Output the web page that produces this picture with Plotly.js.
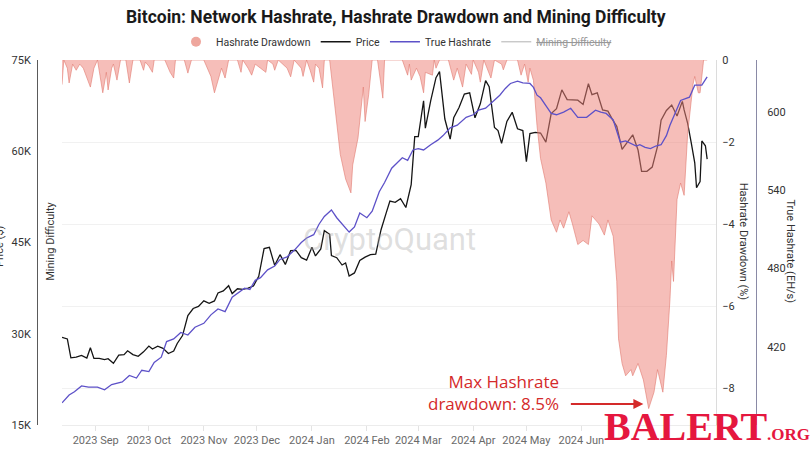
<!DOCTYPE html>
<html><head><meta charset="utf-8">
<script src="https://cdn.plot.ly/plotly-3.0.1.min.js"></script>
<style>html,body{margin:0;padding:0;background:#fff}#chart{width:811px;height:450px}</style>
</head><body><div id="chart"></div>
<script>
const priceDates = ['2023-08-13','2023-08-16','2023-08-18','2023-08-21','2023-08-24','2023-08-27','2023-08-29','2023-08-31',
'2023-09-03','2023-09-06','2023-09-08','2023-09-11','2023-09-14','2023-09-17','2023-09-19','2023-09-22','2023-09-25','2023-09-28',
'2023-10-01','2023-10-03','2023-10-06','2023-10-09','2023-10-12','2023-10-15','2023-10-17','2023-10-20','2023-10-23','2023-10-26','2023-10-29',
'2023-11-01','2023-11-04','2023-11-07','2023-11-09','2023-11-12','2023-11-15','2023-11-17','2023-11-20','2023-11-23','2023-11-26','2023-11-29',
'2023-12-02','2023-12-05','2023-12-08','2023-12-11','2023-12-14','2023-12-17','2023-12-20','2023-12-23','2023-12-26','2023-12-29',
'2024-01-01','2024-01-03','2024-01-06','2024-01-08','2024-01-11','2024-01-12','2024-01-15','2024-01-18','2024-01-20','2024-01-22','2024-01-25','2024-01-28','2024-01-31',
'2024-02-03','2024-02-06','2024-02-09','2024-02-12','2024-02-14','2024-02-17','2024-02-20','2024-02-23','2024-02-26','2024-02-28',
'2024-03-01','2024-03-04','2024-03-05','2024-03-08','2024-03-11','2024-03-13','2024-03-16','2024-03-19','2024-03-21','2024-03-24','2024-03-27','2024-03-30',
'2024-04-02','2024-04-05','2024-04-08','2024-04-10','2024-04-13','2024-04-15','2024-04-17','2024-04-20','2024-04-23','2024-04-26','2024-04-29',
'2024-05-01','2024-05-03','2024-05-06','2024-05-09','2024-05-12','2024-05-15','2024-05-18','2024-05-21','2024-05-24','2024-05-27','2024-05-30',
'2024-06-02','2024-06-05','2024-06-07','2024-06-10','2024-06-13','2024-06-16','2024-06-19','2024-06-21','2024-06-24','2024-06-27','2024-06-30',
'2024-07-03','2024-07-05','2024-07-08','2024-07-11','2024-07-14','2024-07-16','2024-07-19','2024-07-22','2024-07-25','2024-07-28','2024-07-29','2024-07-31',
'2024-08-02','2024-08-04','2024-08-05','2024-08-07','2024-08-08','2024-08-10','2024-08-11'];
const priceValues = [29400,29150,26050,26150,26450,26000,27700,25950,
25950,25750,25900,25150,26500,26550,27200,26580,26300,27030,
27980,27500,27950,27600,26750,27150,28400,29700,33000,34150,34500,
35400,35000,35400,36700,37050,37900,36600,37400,37300,37500,37850,
39450,44000,44200,41250,43000,41400,43650,43700,42500,42100,
44200,42800,43950,46950,46350,42850,42500,41300,41650,39500,40000,42050,42600,
43000,43100,47100,49950,51800,51600,52200,50750,54500,62400,
62400,68300,63800,68300,72100,73100,65300,62000,65500,67200,69400,69600,
65500,67800,71600,70600,63900,63400,61300,64900,66400,63700,63400,
58300,62900,63100,63000,61500,66200,67000,70100,68500,68500,68400,
67700,71100,69300,69600,66800,66600,65000,64100,60300,61500,62700,
60200,56700,56700,57400,60800,65100,66700,67600,65800,68200,66800,64600,
61400,58100,54000,55000,61700,60900,58700];

const hashDates = ['2023-08-13','2023-08-17','2023-08-20','2023-08-24','2023-08-28','2023-09-02','2023-09-06','2023-09-10','2023-09-16','2023-09-20','2023-09-24','2023-09-27',
'2023-10-01','2023-10-04','2023-10-08','2023-10-11','2023-10-15','2023-10-19','2023-10-23','2023-10-27',
'2023-11-01','2023-11-05','2023-11-09','2023-11-13','2023-11-17','2023-11-20','2023-11-24','2023-11-27','2023-11-30',
'2023-12-03','2023-12-07','2023-12-11','2023-12-14','2023-12-18','2023-12-22','2023-12-26','2023-12-29',
'2024-01-02','2024-01-05','2024-01-08','2024-01-12','2024-01-15','2024-01-18','2024-01-22','2024-01-25','2024-01-28',
'2024-02-01','2024-02-04','2024-02-08','2024-02-11','2024-02-15','2024-02-18','2024-02-21','2024-02-24','2024-02-27',
'2024-03-01','2024-03-04','2024-03-08','2024-03-12','2024-03-15','2024-03-19','2024-03-23','2024-03-28',
'2024-04-01','2024-04-04','2024-04-08','2024-04-12','2024-04-16','2024-04-19','2024-04-22','2024-04-26','2024-04-29',
'2024-05-03','2024-05-05','2024-05-07','2024-05-09','2024-05-12','2024-05-15','2024-05-18','2024-05-22','2024-05-26','2024-05-30',
'2024-06-04','2024-06-09','2024-06-12','2024-06-15','2024-06-19','2024-06-21','2024-06-23','2024-06-26','2024-06-29',
'2024-07-02','2024-07-04','2024-07-07','2024-07-10','2024-07-13','2024-07-16','2024-07-19','2024-07-21','2024-07-24','2024-07-27',
'2024-08-01','2024-08-04','2024-08-08','2024-08-11'];
const hashValues = [377,383,385.5,390,389,389,387,391,393,398,396,402,
401,408,412,424,426,431,429,435,
438,444.5,449,447,458,461,465,464,471,
473,479,482,487,489,494,500,503.5,
506,514,520,525,519,514,508,512,522.6,
519,524,539,546,557,561,565,563,571,
572,571,575,578.5,582,588,590,596,
598,601.5,603,607.7,613,618,622,623.7,622.5,
622,619,613,611,605,599,598,600,603,596,
596,601.5,600,599,594,585,577,578,576,
574,575,573,572,574,575,582,590,600,609,
611.5,620.7,620.7,627];

const ddDates = ['2023-08-13','2023-08-14','2023-08-16','2023-08-17','2023-08-19','2023-08-21','2023-08-23','2023-08-25','2023-08-29','2023-08-31',
'2023-09-02','2023-09-05','2023-09-07','2023-09-08','2023-09-10','2023-09-11','2023-09-13','2023-09-15','2023-09-18','2023-09-20','2023-09-22','2023-09-26','2023-09-28','2023-09-29',
'2023-10-01','2023-10-03','2023-10-04','2023-10-10','2023-10-13','2023-10-15','2023-10-16','2023-10-21','2023-10-23','2023-10-25',
'2023-11-01','2023-11-05','2023-11-07','2023-11-10','2023-11-11','2023-11-13','2023-11-15','2023-11-20','2023-11-22','2023-11-23','2023-11-26','2023-11-28','2023-11-30',
'2023-12-03','2023-12-06','2023-12-07','2023-12-10','2023-12-11','2023-12-13','2023-12-18','2023-12-20','2023-12-22','2023-12-26','2023-12-27','2023-12-29','2023-12-31',
'2024-01-02','2024-01-03','2024-01-05','2024-01-07','2024-01-08','2024-01-11','2024-01-14','2024-01-17','2024-01-20','2024-01-23','2024-01-24','2024-01-27','2024-01-30','2024-01-31',
'2024-02-02','2024-02-04','2024-02-07','2024-02-10','2024-02-11','2024-02-21','2024-02-24','2024-02-25','2024-02-26','2024-02-29',
'2024-03-02','2024-03-04','2024-03-05','2024-03-09','2024-03-10','2024-03-11','2024-03-13','2024-03-18','2024-03-21','2024-03-23','2024-03-26','2024-03-28','2024-03-31',
'2024-04-01','2024-04-04','2024-04-05','2024-04-07','2024-04-09','2024-04-11','2024-04-13','2024-04-17','2024-04-18','2024-04-20','2024-04-26','2024-04-28','2024-04-30',
'2024-05-02','2024-05-03','2024-05-05','2024-05-07','2024-05-09','2024-05-12','2024-05-15','2024-05-18','2024-05-20','2024-05-22','2024-05-25','2024-05-27','2024-05-30',
'2024-06-02','2024-06-05','2024-06-07','2024-06-11','2024-06-14','2024-06-16','2024-06-19','2024-06-21','2024-06-22','2024-06-24','2024-06-26','2024-06-29','2024-06-30',
'2024-07-03','2024-07-06','2024-07-09','2024-07-12','2024-07-14','2024-07-17','2024-07-19','2024-07-21','2024-07-22','2024-07-23','2024-07-24','2024-07-25','2024-07-27','2024-07-29','2024-07-31',
'2024-08-02','2024-08-03','2024-08-04','2024-08-06','2024-08-07','2024-08-08','2024-08-09','2024-08-11'];
const ddValues = [-0.6,0,-0.2,-0.56,-0.1,-0.25,-0.1,-0.2,-0.66,-0.2,
0,-0.8,-0.3,-0.73,-0.2,-0.1,-0.49,0,0,-0.56,0,0,-0.25,-0.05,
-0.15,-0.3,0,0,-0.3,-0.44,0,0,-0.32,0,
0,-0.4,-0.8,-0.3,-0.2,-0.44,0,0,-0.3,0,-0.2,-0.37,-0.1,
-0.2,-0.3,0,-0.1,-0.25,0,-0.2,-0.41,0,-0.2,-0.4,0,-0.25,
-0.54,-0.1,-0.2,-0.68,0,0,-1.2,-2.3,-2.9,-3.24,-2.56,-1.9,-0.66,-1.5,
-0.85,0,0,-0.93,0,0,-0.37,-0.1,-0.49,-0.2,
-0.4,-0.8,-0.3,-0.37,0,-0.2,0,0,-0.49,-0.2,-0.66,-0.1,-0.35,
0,-0.3,-0.54,0,-0.2,-0.44,0,-0.1,-0.24,0,0,-0.37,-0.1,
-0.54,-0.2,-0.5,-1.6,-2.4,-3.0,-3.9,-4.2,-3.9,-4.1,-3.7,-4.0,-4.5,
-4.4,-4.5,-3.8,-4.0,-4.27,-3.9,-4.3,-5.4,-6.8,-7.4,-7.7,-7.55,-7.7,
-7.4,-7.8,-8.5,-8.1,-7.55,-8.1,-7.2,-5.85,-4.9,-5.4,-4.2,-3.4,-3.0,-3.3,-1.8,
-0.93,-0.6,-0.4,-0.8,-0.8,-0.3,0,0];

// Mining Difficulty is switched off in the reference legend: no values drawn
const difficultyDates = [null];
const difficultyValues = [null];

const xTickVals = ['2023-09-01','2023-10-01','2023-11-01','2023-12-01','2024-01-01','2024-02-01','2024-03-01','2024-04-01','2024-05-01','2024-06-01'];
const xTickText = ['2023 Sep','2023 Oct','2023 Nov','2023 Dec','2024 Jan','2024 Feb','2024 Mar','2024 Apr','2024 May','2024 Jun'];
const priceTickVals = [15000,30000,45000,60000,75000];
const priceTickText = ['15K','30K','45K','60K','75K'];
const ddTickVals = [0,-2,-4,-6,-8];
const hashTickVals = [420,480,540,600];

const PINK = 'rgba(238,130,120,0.52)';
const traces = [
  {x: ddDates, y: ddValues, yaxis: 'y2', type: 'scatter', mode: 'lines', fill: 'tozeroy',
   fillcolor: PINK, line: {color: 'rgba(225,120,110,0.75)', width: 0.8}, name: 'Hashrate Drawdown',
   showlegend: false, legendgroup: 'dd', hoverinfo: 'skip'},
  {x: [null], y: [null], yaxis: 'y2', type: 'scatter', mode: 'markers', name: 'Hashrate Drawdown',
   legendgroup: 'dd', marker: {symbol: 'circle', size: 10, color: 'rgba(235,150,140,0.85)'}},
  {x: priceDates, y: priceValues, yaxis: 'y', type: 'scatter', mode: 'lines', name: 'Price',
   line: {color: '#151515', width: 1.3}},
  {x: hashDates, y: hashValues, yaxis: 'y3', type: 'scatter', mode: 'lines', name: 'True Hashrate',
   line: {color: '#5d51c8', width: 1.3}},
  {x: difficultyDates, y: difficultyValues, yaxis: 'y4', type: 'scatter', mode: 'lines', name: '<s>Mining Difficulty</s>',
   visible: 'legendonly', line: {color: '#8a8a8a', width: 1.3}}
];

const FONT = 'Roboto, "Noto Sans", sans-serif';
const layout = {
  width: 811, height: 450,
  margin: {l: 37, r: 55, t: 60, b: 25, pad: 0},
  paper_bgcolor: '#fff', plot_bgcolor: '#fff',
  font: {family: FONT, size: 11, color: '#333'},
  showlegend: true,
  title: {text: '<b>Bitcoin: Network Hashrate, Hashrate Drawdown and Mining Difficulty</b>',
          x: 0.488, xanchor: 'center', y: 0.962, yanchor: 'middle', xref: 'container', yref: 'container',
          font: {family: FONT, size: 17.5, color: '#1a1a1a'}},
  legend: {orientation: 'h', x: 0.5, xanchor: 'center', y: 1.05, yanchor: 'middle',
           font: {family: FONT, size: 10.5, color: '#333'}, itemwidth: 30, tracegroupgap: 0, bgcolor: 'rgba(0,0,0,0)'},
  xaxis: {type: 'date', domain: [0.0348, 0.9444], range: ['2023-08-13', '2024-08-16'], anchor: 'y2',
          tickvals: xTickVals, ticktext: xTickText, ticks: 'outside', ticklen: 5, tickcolor: '#e3e3e3',
          showline: true, linecolor: '#ececec', linewidth: 1, showgrid: false, zeroline: false,
          tickfont: {family: FONT, size: 11, color: '#6a6a6a'}},
  yaxis: {anchor: 'free', position: 0, side: 'left', range: [15000, 75000],
          tickvals: priceTickVals, ticktext: priceTickText, ticks: 'outside', ticklen: 4, tickcolor: 'rgba(0,0,0,0)',
          showline: true, linecolor: '#5a5a5a', linewidth: 1, showgrid: false, zeroline: false,
          tickfont: {family: FONT, size: 11, color: '#333'}},
  yaxis2: {overlaying: 'y', anchor: 'x', side: 'right', range: [-8.9, 0],
           tickvals: ddTickVals, ticks: 'outside', ticklen: 3, tickcolor: 'rgba(0,0,0,0)',
           showline: true, linecolor: '#dcdcdc', linewidth: 1, showgrid: true, gridcolor: '#f1f1f1', zeroline: false,
           tickfont: {family: FONT, size: 11, color: '#333'}},
  yaxis3: {overlaying: 'y', anchor: 'free', position: 1, side: 'right', range: [360, 640],
           tickvals: hashTickVals, ticks: 'outside', ticklen: 8, tickcolor: 'rgba(0,0,0,0)',
           showline: true, linecolor: '#8a8aa6', linewidth: 1, showgrid: false, zeroline: false,
           tickfont: {family: FONT, size: 11, color: '#333'}},
  yaxis4: {overlaying: 'y', anchor: 'x', side: 'left', visible: false, showgrid: false, zeroline: false},
  annotations: [
    {text: 'Price ($)', xref: 'paper', yref: 'paper', x: -0.053, y: 0.49, xanchor: 'center', yanchor: 'middle',
     textangle: -90, showarrow: false, font: {family: FONT, size: 11, color: '#333'}},
    {text: 'Mining Difficulty', xref: 'paper', yref: 'paper', x: 0.0195, y: 0.502, xanchor: 'center', yanchor: 'middle',
     textangle: -90, showarrow: false, font: {family: FONT, size: 11, color: '#333'}},
    {text: 'Hashrate Drawdown (%)', xref: 'paper', yref: 'paper', x: 0.982, y: 0.502, xanchor: 'center', yanchor: 'middle',
     textangle: 90, showarrow: false, font: {family: FONT, size: 11, color: '#333'}},
    {text: 'True Hashrate (EH/s)', xref: 'paper', yref: 'paper', x: 1.048, y: 0.477, xanchor: 'center', yanchor: 'middle',
     textangle: 90, showarrow: false, font: {family: FONT, size: 11, color: '#333'}},
    {text: 'CryptoQuant', xref: 'paper', yref: 'paper', x: 0.49, y: 0.508, xanchor: 'center', yanchor: 'middle',
     showarrow: false, font: {family: FONT, size: 31, color: 'rgba(170,170,170,0.38)'}},
    {text: 'Max Hashrate<br>drawdown: 8.5%', xref: 'x', yref: 'y2', x: '2024-05-20 12:00', y: -8.1,
     xanchor: 'right', yanchor: 'middle', align: 'right', showarrow: false,
     font: {family: '"Open Sans", sans-serif', size: 17, color: '#d42a2a'}},
    {text: '', xref: 'x', yref: 'y2', x: '2024-07-06', y: -8.39, ax: -74, ay: 0,
     showarrow: true, arrowhead: 2, arrowsize: 1, arrowwidth: 2, arrowcolor: '#d42a2a', standoff: 0, startstandoff: 0},
    {text: '<b>BALERT</b><span style="font-size:17px"><b>.ORG</b></span>', xref: 'paper', yref: 'paper',
     x: 1.0765, y: -0.0685, xanchor: 'right', yanchor: 'bottom', showarrow: false, borderpad: 0,
     font: {family: '"Liberation Serif", serif', size: 40, color: '#e5173f'}}
  ]
};
Plotly.newPlot('chart', traces, layout, {displayModeBar: false, staticPlot: true});
</script>
</body></html>
